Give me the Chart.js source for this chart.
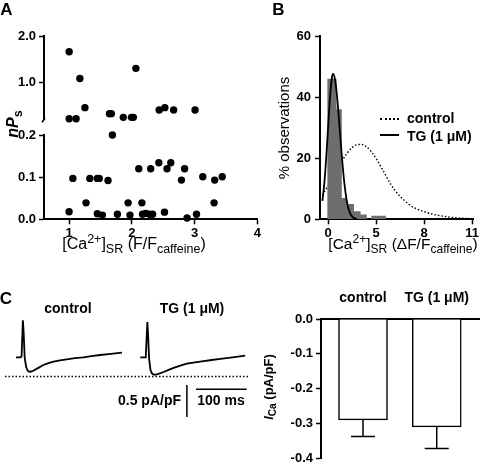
<!DOCTYPE html>
<html lang="en">
<head>
<meta charset="UTF-8">
<title>Figure</title>
<script src="https://cdn.jsdelivr.net/npm/chart.js"></script>
<style>
  body { margin: 0; background: #fff; }
  #fig { position: relative; width: 480px; height: 469px; overflow: hidden; font-family: 'Liberation Sans', Arial, sans-serif; color: #000; }
  canvas { position: absolute; }
  .t { position: absolute; white-space: nowrap; transform: translate(-50%, -50%); line-height: 1; }
  .b { font-weight: bold; }
  .rot { transform: translate(-50%, -50%) rotate(-90deg); }
  .right { transform: translate(-100%, -50%); }
  .left { transform: translate(0, -50%); }
  sub, sup { font-size: 0.78em; line-height: 0; }
  .key { position: absolute; width: 19px; height: 0; }
</style>
</head>
<body>
<div id="fig">
  <canvas id="aTop" width="262" height="130" style="left:0;top:0"></canvas>
  <canvas id="aBot" width="262" height="130" style="left:0;top:120px"></canvas>
  <canvas id="bHist" width="240" height="250" style="left:240px;top:0"></canvas>
  <canvas id="cTrace" width="250" height="140" style="left:0;top:290px"></canvas>
  <canvas id="cBar" width="230" height="179" style="left:250px;top:290px"></canvas>

  <!-- panel letters -->
  <div class="t b" style="left:6.5px;top:8.5px;font-size:17px">A</div>
  <div class="t b" style="left:278.5px;top:8.5px;font-size:17px">B</div>
  <div class="t b" style="left:6px;top:297.5px;font-size:17px">C</div>

  <!-- axis titles -->
  <div class="t b rot" style="left:13px;top:124px;font-size:16px"><i>nP</i><sub>s</sub></div>
  <div class="t" style="left:134px;top:244px;font-size:16px">[Ca<sup>2+</sup>]<sub>SR</sub> (F/F<sub>caffeine</sub>)</div>
  <div class="t rot" style="left:283px;top:127.5px;font-size:15px">% observations</div>
  <div class="t" style="left:403px;top:244px;font-size:15.5px">[Ca<sup>2+</sup>]<sub>SR</sub> (ΔF/F<sub>caffeine</sub>)</div>
  <div class="t b rot" style="left:268px;top:387px;font-size:13px"><i>I</i><sub>Ca</sub> (pA/pF)</div>

  <!-- legend B -->
  <div class="key" style="left:380px;top:117.5px;border-top:2px dotted #000"></div>
  <div class="t b left" style="left:407px;top:118px;font-size:14px">control</div>
  <div class="key" style="left:380px;top:134px;border-top:2px solid #000"></div>
  <div class="t b left" style="left:407px;top:136px;font-size:14px">TG (1 μM)</div>

  <!-- panel C trace labels -->
  <div class="t b" style="left:68px;top:308px;font-size:14px">control</div>
  <div class="t b" style="left:192px;top:308px;font-size:14px">TG (1 μM)</div>
  <div class="t b right" style="left:181px;top:399.5px;font-size:14px">0.5 pA/pF</div>
  <div class="t b" style="left:221px;top:399.5px;font-size:14px">100 ms</div>
</div>

<script>
    // ---- panel A : nPs vs [Ca]SR (broken y axis) ----
    var aUpperX = [1.00, 1.17, 2.06, 1.25, 1.00, 1.11, 1.64, 1.67, 1.86, 1.99, 2.02, 2.43, 2.52, 2.66, 3.00];
    var aUpperY = [1.66, 1.08, 1.30, 0.45, 0.21, 0.21, 0.32, 0.32, 0.24, 0.24, 0.24, 0.40, 0.45, 0.40, 0.40];
    var aLowerX = [1.69, 1.06, 1.33, 1.45, 1.48, 1.62, 2.11, 2.30, 2.43, 2.56, 2.62, 2.84, 2.79, 3.13, 3.32, 3.44,
                   1.00, 1.27, 1.45, 1.53, 1.77, 1.94, 1.97, 2.16, 2.17, 2.22, 2.28, 2.33, 2.52, 2.88, 3.03, 3.31];
    var aLowerY = [0.200, 0.097, 0.097, 0.097, 0.097, 0.092, 0.120, 0.120, 0.134, 0.120, 0.134, 0.120, 0.093, 0.101, 0.093, 0.101,
                   0.018, 0.039, 0.013, 0.010, 0.012, 0.039, 0.010, 0.039, 0.012, 0.014, 0.012, 0.012, 0.017, 0.003, 0.012, 0.039];
    var aXTicks = [1, 2, 3, 4];
    var aUpperTicks = [1.0, 2.0];
    var aLowerTicks = [0.0, 0.1, 0.2];

    // ---- panel B : distribution of [Ca]SR ----
    var bTickPos = [0, 5, 10, 15];
    var bTickLabels = ['0', '5', '8', '11'];
    var bYTicks = [0, 20, 40, 60];
    var histEdges = [-0.1, 0.87, 1.42, 1.96, 2.69, 3.38, 4.03, 4.5, 6.02];
    var histPct = [46, 36, 7, 5, 2.6, 1.6, 0, 1.2, 0];
    var ctrlFitX = [-0.6, 0, 0.5, 1, 1.5, 2, 2.5, 3, 3.5, 4, 4.5, 5, 5.5, 6, 6.5, 7, 7.5, 8, 8.5, 9, 10, 11, 12, 13, 14, 15];
    var ctrlFitY = [8.0, 11.0, 13.8, 16.6, 19.4, 21.7, 23.5, 24.4, 24.5, 23.7, 22.1, 19.9, 17.2, 14.4, 11.6, 9.3, 7.5, 6.0, 4.7, 3.7, 2.5, 1.6, 1.0, 0.6, 0.35, 0.2];
    var tgFitX = [-0.6, -0.4, -0.2, 0, 0.2, 0.4, 0.52, 0.7, 0.9, 1.1, 1.3, 1.5, 1.7, 1.9, 2.1, 2.3, 2.6, 3.0];
    var tgFitY = [6.0, 11.7, 20.2, 30.4, 40.2, 46.5, 47.6, 46.0, 41.1, 33.8, 25.6, 17.9, 11.5, 6.8, 3.7, 1.9, 0.6, 0.1];

    // ---- panel C : ICa traces (ms, pA/pF) and mean amplitudes ----
    var ctrlT = [0, 9.5, 11, 13.5, 15, 17, 20, 23, 26, 30, 34, 44, 54, 64, 74, 87, 100, 116, 133, 149, 166, 187, 209];
    var ctrlI = [0, 0, 0.02, 0.58, 0.4, 0.0, -0.15, -0.21, -0.225, -0.222, -0.21, -0.165, -0.12, -0.09, -0.069, -0.048, -0.031, -0.014, 0, 0.018, 0.036, 0.054, 0.072];
    var tgT = [0, 9.5, 11, 14, 15.5, 17.5, 20, 23, 26.5, 31, 36, 46, 56, 66, 79, 92, 108, 125, 141, 158, 182, 207];
    var tgI = [0, 0, 0.02, 0.55, 0.35, -0.02, -0.19, -0.25, -0.27, -0.272, -0.26, -0.23, -0.197, -0.165, -0.13, -0.097, -0.078, -0.06, -0.042, -0.023, 0.0, 0.028];
    var tgOffsetMs = 245;
    var zeroLevel = -0.30;
    var scaleBarMs = 100;
    var scaleBarPApF = 0.5;

    var barLabels = ['control', 'TG (1 μM)'];
    var barMeans = [-0.29, -0.31];
    var barSem = [0.048, 0.062];
    var barYTicks = [0, -0.1, -0.2, -0.3, -0.4];

    Chart.defaults.font.family = "'Liberation Sans', Arial, sans-serif";
    Chart.defaults.font.size = 13;
    Chart.defaults.font.weight = 'bold';
    Chart.defaults.color = '#000';

    function pts(xs, ys, dx) {
        return xs.map(function (x, i) { return { x: x + (dx || 0), y: ys[i] }; });
    }

    function axis(extra) {
        var base = {
            grid: { display: true, drawOnChartArea: false, drawTicks: true, tickLength: 5, tickWidth: 1.5, tickColor: '#000', color: '#000' },
            border: { display: true, color: '#000', width: 2 },
            ticks: { padding: 3, color: '#000', font: { size: 13, weight: 'bold' } }
        };
        return Object.assign(base, extra);
    }

    var common = {
        responsive: false,
        animation: false,
        events: [],
        plugins: { legend: { display: false }, tooltip: { enabled: false } }
    };

    function opts(extra) { return Object.assign({}, common, extra); }

    var breakMark = {
        id: 'breakMark',
        afterDraw: function (chart) {
            var a = chart.chartArea, ctx = chart.ctx;
            ctx.save();
            ctx.strokeStyle = '#000';
            ctx.lineWidth = 1.5;
            ctx.beginPath();
            ctx.moveTo(a.left - 2, a.bottom + 3);
            ctx.lineTo(a.left + 1, a.bottom - 1);
            ctx.stroke();
            ctx.restore();
        }
    };

    // A upper segment
    new Chart(document.getElementById('aTop'), {
        type: 'scatter',
        data: { datasets: [{ data: pts(aUpperX, aUpperY), pointRadius: 3.7, backgroundColor: '#000', borderWidth: 0, clip: false }] },
        options: opts({
            layout: { padding: { top: 36, right: 3, bottom: 9.4, left: 0 } },
            scales: {
                x: { type: 'linear', min: 0.6, max: 4, display: false },
                y: axis({
                    min: 0.2, max: 2,
                    afterBuildTicks: function (s) { s.ticks = aUpperTicks.map(function (v) { return { value: v }; }); },
                    afterFit: function (s) { s.width = 44; },
                    ticks: { padding: 3, color: '#000', font: { size: 13, weight: 'bold' }, callback: function (v) { return v.toFixed(1); } }
                })
            }
        }),
        plugins: [breakMark]
    });

    // A lower segment
    new Chart(document.getElementById('aBot'), {
        type: 'scatter',
        data: { datasets: [{ data: pts(aLowerX, aLowerY), pointRadius: 3.7, backgroundColor: '#000', borderWidth: 0, clip: false }] },
        options: opts({
            layout: { padding: { top: 15, right: 3, bottom: 0.7, left: 0 } },
            scales: {
                x: axis({
                    type: 'linear', min: 0.6, max: 4,
                    afterBuildTicks: function (s) { s.ticks = aXTicks.map(function (v) { return { value: v }; }); },
                    afterFit: function (s) { s.height = 30; },
                    ticks: { padding: 1, color: '#000', font: { size: 13, weight: 'bold' }, callback: function (v) { return v; } }
                }),
                y: axis({
                    min: 0, max: 0.2,
                    afterBuildTicks: function (s) { s.ticks = aLowerTicks.map(function (v) { return { value: v }; }); },
                    afterFit: function (s) { s.width = 44; },
                    ticks: { padding: 3, color: '#000', font: { size: 13, weight: 'bold' }, callback: function (v) { return v.toFixed(1); } }
                })
            }
        })
    });

    // B histogram + fits
    new Chart(document.getElementById('bHist'), {
        type: 'line',
        data: {
            datasets: [
                { data: pts(ctrlFitX, ctrlFitY), borderColor: '#000', borderWidth: 1.4, borderDash: [1.5, 2], pointRadius: 0, cubicInterpolationMode: 'monotone', order: 3 },
                { data: pts(histEdges, histPct), stepped: 'before', fill: 'origin', backgroundColor: '#6e6e6e', borderWidth: 0, pointRadius: 0, order: 2 },
                { data: pts(tgFitX, tgFitY), borderColor: '#000', borderWidth: 1.8, pointRadius: 0, cubicInterpolationMode: 'monotone', order: 1 }
            ]
        },
        options: opts({
            layout: { padding: { top: 36, right: 5.6, bottom: 0.7, left: 0 } },
            scales: {
                x: axis({
                    type: 'linear', min: -0.85, max: 15.1,
                    afterBuildTicks: function (s) { s.ticks = bTickPos.map(function (v) { return { value: v }; }); },
                    afterFit: function (s) { s.height = 30; },
                    ticks: { padding: 1, color: '#000', font: { size: 13, weight: 'bold' }, callback: function (v, i) { return bTickLabels[i]; } }
                }),
                y: axis({
                    min: 0, max: 60,
                    afterBuildTicks: function (s) { s.ticks = bYTicks.map(function (v) { return { value: v }; }); },
                    afterFit: function (s) { s.width = 80; },
                    ticks: { padding: 4, color: '#000', font: { size: 13, weight: 'bold' } }
                })
            }
        })
    });

    // C traces with zero line and scale bars
    var sbX = 337, sbTop = -0.433, sbHX = 355, sbHY = -0.5;
    new Chart(document.getElementById('cTrace'), {
        type: 'line',
        data: {
            datasets: [
                { data: [{ x: -21.7, y: zeroLevel }, { x: 457.6, y: zeroLevel }], borderColor: '#000', borderWidth: 1.3, borderDash: [1.5, 2], pointRadius: 0 },
                { data: pts(ctrlT, ctrlI), borderColor: '#000', borderWidth: 1.8, pointRadius: 0 },
                { data: pts(tgT, tgI, tgOffsetMs), borderColor: '#000', borderWidth: 1.8, pointRadius: 0 },
                { data: [{ x: sbX, y: sbTop }, { x: sbX, y: sbTop - scaleBarPApF }], borderColor: '#000', borderWidth: 1.5, pointRadius: 0 },
                { data: [{ x: sbHX, y: sbHY }, { x: sbHX + scaleBarMs, y: sbHY }], borderColor: '#000', borderWidth: 1.5, pointRadius: 0 }
            ]
        },
        options: opts({
            layout: { padding: 0 },
            scales: {
                x: { type: 'linear', min: -31.6, max: 461.5, display: false },
                y: { min: -1.136, max: 1.052, display: false }
            }
        })
    });

    // C bar chart with one-sided error bars
    var errorBars = {
        id: 'errorBars',
        afterDatasetsDraw: function (chart) {
            var ctx = chart.ctx, y = chart.scales.y;
            chart.getDatasetMeta(0).data.forEach(function (bar, i) {
                var yEnd = y.getPixelForValue(barMeans[i] - barSem[i]);
                ctx.save();
                ctx.strokeStyle = '#000';
                ctx.lineWidth = 1.5;
                ctx.beginPath();
                ctx.moveTo(bar.x, bar.y);
                ctx.lineTo(bar.x, yEnd);
                ctx.moveTo(bar.x - 12, yEnd);
                ctx.lineTo(bar.x + 12, yEnd);
                ctx.stroke();
                ctx.restore();
            });
        }
    };

    new Chart(document.getElementById('cBar'), {
        type: 'bar',
        data: {
            datasets: [{
                data: barMeans.map(function (m, i) { return { x: i, y: m }; }),
                backgroundColor: '#fff', borderColor: '#000', borderWidth: 1.5, borderSkipped: 'start', barThickness: 49
            }]
        },
        options: opts({
            layout: { padding: { top: 0, right: 0, bottom: 5, left: 0 } },
            scales: {
                x: {
                    type: 'linear', position: 'top', min: -0.57, max: 1.587, offset: false,
                    grid: { display: false, offset: false },
                    border: { display: true, color: '#000', width: 2 },
                    afterBuildTicks: function (s) { s.ticks = barLabels.map(function (l, i) { return { value: i }; }); },
                    afterFit: function (s) { s.height = 29; },
                    ticks: { padding: 4, color: '#000', font: { size: 14, weight: 'bold' }, callback: function (v) { return barLabels[v]; } }
                },
                y: axis({
                    min: -0.4, max: 0,
                    afterBuildTicks: function (s) { s.ticks = barYTicks.map(function (v) { return { value: v }; }); },
                    afterFit: function (s) { s.width = 71; },
                    ticks: { padding: 3, color: '#000', font: { size: 13, weight: 'bold' }, callback: function (v) { return v.toFixed(1); } }
                })
            }
        }),
        plugins: [errorBars]
    });
</script>
</body>
</html>
